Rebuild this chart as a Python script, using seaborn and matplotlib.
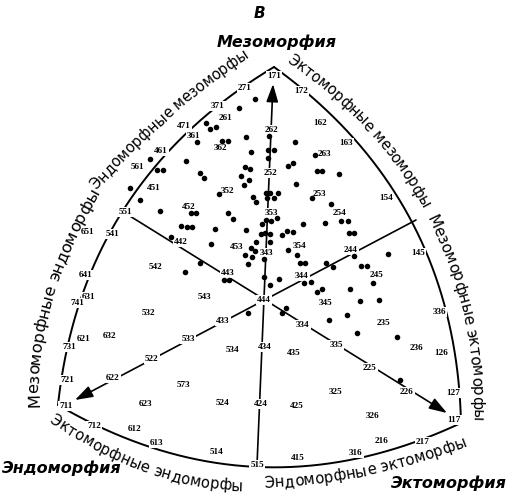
import numpy as np
import matplotlib
matplotlib.use("Agg")
import matplotlib.pyplot as plt
import seaborn as sns
import pandas as pd
from matplotlib.textpath import TextToPath
from matplotlib.font_manager import FontProperties

# ---------------- data ----------------
dot_x = [255, 239, 206, 210, 216, 197, 222, 228, 246, 251,
         295, 269, 268, 274, 268, 293, 288, 315, 317, 322,
         339, 296, 312, 331, 341, 348, 303, 325, 349, 354,
         186, 150, 157, 163, 200, 204, 245, 250, 241, 249,
         244, 130, 140, 160, 191, 196, 181, 187, 192, 171,
         219, 253, 256, 266, 270, 278, 267, 274, 228, 233,
         246, 215, 211, 266, 271, 277, 262, 261, 265, 270,
         256, 270, 282, 287, 293, 251, 255, 245, 252, 264,
         248, 288, 297, 300, 305, 200, 185, 224, 229, 264,
         279, 270, 248, 286, 282, 354, 388, 326, 333, 361,
         367, 304, 311, 373, 317, 322, 350, 360, 379, 347,
         329, 357, 397, 400]
dot_y = [99, 108, 123, 129, 127, 142, 141, 141, 137, 152,
         142, 136, 150, 150, 158, 163, 166, 155, 171, 171,
         174, 184, 198, 204, 221, 221, 224, 223, 233, 233,
         161, 159, 170, 170, 173, 178, 167, 169, 176, 180,
         185, 188, 200, 211, 213, 213, 226, 227, 227, 237,
         194, 197, 202, 193, 193, 193, 198, 198, 213, 219,
         230, 229, 244, 220, 221, 218, 224, 234, 233, 234,
         242, 242, 235, 231, 232, 248, 251, 255, 257, 259,
         264, 250, 255, 263, 263, 263, 272, 280, 280, 277,
         279, 285, 313, 308, 313, 256, 254, 263, 267, 266,
         266, 283, 282, 283, 292, 289, 289, 301, 300, 315,
         320, 333, 337, 380]

label_text = ["171", "271", "172", "371", "261", "162", "471", "262", "361", "163",
              "362", "461", "263", "561", "252", "451", "352", "253", "154", "452",
              "551", "353", "254", "651", "541", "442", "453", "354", "343", "244",
              "145", "542", "443", "641", "344", "245", "631", "543", "444", "345",
              "741", "336", "532", "433", "334", "235", "621", "632", "533", "731",
              "434", "534", "435", "335", "236", "126", "522", "225", "721", "622",
              "573", "325", "226", "127", "623", "524", "424", "425", "711", "326",
              "117", "712", "612", "216", "217", "613", "514", "316", "415", "515"]
label_x = [274, 245, 301, 218, 226, 320, 184, 272, 194, 346,
           221, 161, 324, 137, 271, 154, 228, 319, 386, 189,
           125, 271, 340, 88, 113, 181, 237, 300, 267, 351,
           418, 156, 228, 86, 302, 377, 89, 204, 264, 326,
           77, 439, 148, 223, 303, 383, 84, 110, 188, 69,
           265, 232, 294, 336, 416, 441, 152, 370, 67, 113,
           183, 336, 407, 453, 146, 223, 261, 297, 66, 373,
           454, 94, 135, 382, 423, 157, 217, 356, 298, 257]
label_y = [76, 88, 91, 106, 118, 123, 126, 130, 136, 143,
           148, 151, 154, 167, 173, 188, 191, 194, 198, 207,
           212, 213, 213, 232, 234, 242, 247, 246, 253, 250,
           253, 267, 273, 275, 276, 275, 297, 297, 300, 303,
           303, 312, 313, 321, 325, 323, 339, 336, 339, 347,
           347, 350, 353, 345, 348, 353, 359, 368, 380, 378,
           385, 392, 392, 393, 404, 403, 404, 406, 406, 416,
           420, 426, 429, 441, 442, 443, 452, 453, 458, 465]

# component vertices of the somatochart (mezo, endo, ecto)
vertex_x = [274, 58, 461]
vertex_y = [67, 405, 423]
side_bulge = [50, 53, 50]          # mezo->endo, endo->ecto, ecto->mezo

# axes through the centre: start (side midpoint) -> arrow tip (vertex)
axis_x0 = [257, 125, 416]
axis_y0 = [465, 213, 220]
axis_x1 = [273, 447, 75]
axis_y1 = [84, 413, 400]

# curved side names: start, middle, end of text
side_names = ["Эндоморфные мезоморфы", "Эктоморфные мезоморфы", "Мезоморфные эктоморфы",
              "Эндоморфные эктоморфы", "Эктоморфные эндоморфы", "Мезоморфные эндоморфы"]
side_pts = [[(92, 186), (168, 111), (246, 52)],
            [(290, 57), (370, 126), (427, 206)],
            [(432, 215), (469, 318), (478, 421)],
            [(264, 482), (368, 469), (465, 440)],
            [(52, 417), (148, 467), (243, 485)],
            [(33, 407), (46, 300), (95, 189)]]

title_text = ["В", "Мезоморфия", "Эндоморфия", "Эктоморфия"]
title_x = [259, 277, 62, 449]
title_y = [14, 42, 468, 483]

# ---------------- figure ----------------
sns.set_theme(style="white")
W, H = 509, 504
fig = plt.figure(figsize=(W / 100, H / 100), dpi=100)
ax = fig.add_axes([0, 0, 1, 1])

df = pd.DataFrame({"x": dot_x, "y": dot_y})
sns.scatterplot(data=df, x="x", y="y", ax=ax, color="black", s=16,
                linewidth=0, legend=False, zorder=5)

ax.set_xlim(0, W)
ax.set_ylim(H, 0)
ax.axis("off")

# boundary: three outward bulging quadratic curves
V = np.array(list(zip(vertex_x, vertex_y)), dtype=float)
cen = V.mean(axis=0)
t = np.linspace(0, 1, 300)[:, None]
for i in range(3):
    P0, P2 = V[i], V[(i + 1) % 3]
    mid = (P0 + P2) / 2
    d = P2 - P0
    n = np.array([-d[1], d[0]]) / np.hypot(*d)
    if np.dot(n, mid - cen) < 0:
        n = -n
    C = mid + 2 * side_bulge[i] * n
    pts = (1 - t) ** 2 * P0 + 2 * t * (1 - t) * C + t ** 2 * P2
    ax.plot(pts[:, 0], pts[:, 1], color="black", lw=1.4, zorder=2,
            solid_capstyle="round", solid_joinstyle="round")

# axes with arrows
for x0, y0, x1, y1 in zip(axis_x0, axis_y0, axis_x1, axis_y1):
    ax.annotate("", xy=(x1, y1), xytext=(x0, y0),
                arrowprops=dict(arrowstyle="-|>,head_length=0.9,head_width=0.3",
                                mutation_scale=12, lw=1.2, color="black",
                                shrinkA=0, shrinkB=0), zorder=2)

# somatotype labels
for s, x, y in zip(label_text, label_x, label_y):
    ax.text(x, y, s, ha="center", va="center", fontsize=6.6, weight="bold",
            family="Liberation Serif", color="black", zorder=3,
            bbox=dict(boxstyle="square,pad=0.12", fc="white", ec="none"))

# curved names
ttp = TextToPath()
PX_PER_PT = 100 / 72


def curved_text(s, pts3, family="DejaVu Sans"):
    P0, P1, P2 = (np.array(p, dtype=float) for p in pts3)
    C = 2 * P1 - 0.5 * (P0 + P2)
    tt = np.linspace(0, 1, 600)[:, None]
    pts = (1 - tt) ** 2 * P0 + 2 * tt * (1 - tt) * C + tt ** 2 * P2
    seg = np.hypot(*np.diff(pts, axis=0).T)
    cum = np.concatenate([[0], np.cumsum(seg)])
    L = cum[-1]
    fp = FontProperties(family=family, size=10)
    aw = ttp.get_text_width_height_descent("aa", fp, ismath=False)[0]
    widths = []
    for ch in s:
        w = ttp.get_text_width_height_descent("a" + ch + "a", fp, ismath=False)[0] - aw
        widths.append(w * PX_PER_PT)
    widths = np.array(widths)
    fs = 10 * L / widths.sum()
    widths = widths * L / widths.sum()
    starts = np.concatenate([[0], np.cumsum(widths)[:-1]])
    for ch, st, w in zip(s, starts, widths):
        if ch == " ":
            continue
        sc = st + w / 2
        x = np.interp(sc, cum, pts[:, 0])
        y = np.interp(sc, cum, pts[:, 1])
        k = min(np.searchsorted(cum, sc), len(pts) - 1)
        k0, k1 = max(k - 3, 0), min(k + 3, len(pts) - 1)
        dx = pts[k1, 0] - pts[k0, 0]
        dy = pts[k1, 1] - pts[k0, 1]
        ang = np.degrees(np.arctan2(-dy, dx))
        ax.text(x, y, ch, rotation=ang, rotation_mode="anchor", ha="center",
                va="center_baseline", fontsize=fs, family=family, color="black",
                zorder=4)


for s, p in zip(side_names, side_pts):
    curved_text(s, p)

# titles
for i, (s, x, y) in enumerate(zip(title_text, title_x, title_y)):
    ax.text(x, y, s, ha="center", va="center", fontsize=11.5 if i else 11,
            family="DejaVu Sans", weight="bold", style="italic", color="black",
            zorder=4)

fig.savefig("out.png", dpi=100, facecolor="white")
